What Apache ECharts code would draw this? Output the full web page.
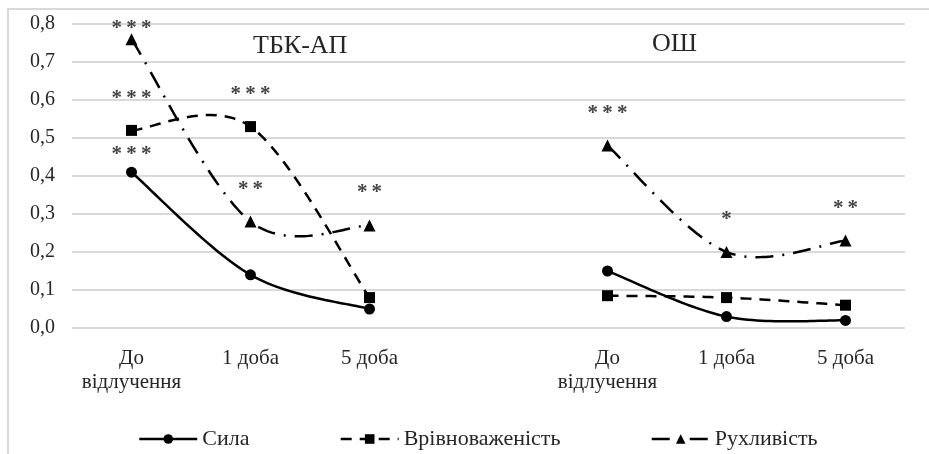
<!DOCTYPE html>
<html>
<head>
<meta charset="utf-8">
<script src="https://cdn.jsdelivr.net/npm/echarts@6/dist/echarts.min.js"></script>
<style>
  html, body { margin: 0; padding: 0; background: #fff; }
  #chart { width: 929px; height: 454px; }
</style>
</head>
<body>
<div id="chart"></div>
<script>
// Categories: two groups of three time points, with an empty slot between them
const categories = ['До\nвідлучення', '1 доба', '5 доба', '', 'До\nвідлучення', '1 доба', '5 доба'];
const groupTitles = ['ТБК-АП', 'ОШ'];
const yTicks = [0, 0.1, 0.2, 0.3, 0.4, 0.5, 0.6, 0.7, 0.8];

const seriesNames = ['Сила', 'Врівноваженість', 'Рухливість'];
const sila = [0.41, 0.14, 0.05, null, 0.15, 0.03, 0.02];
const rivnovazhenist = [0.52, 0.53, 0.08, null, 0.085, 0.08, 0.06];
const rukhlyvist = [0.76, 0.28, 0.27, null, 0.48, 0.20, 0.23];

// Significance marks shown above the points
const silaStars = ['***', '', '', '', '', '', ''];
const rivnovazhenistStars = ['***', '***', '', '', '', '', ''];
const rukhlyvistStars = ['***', '**', '**', '', '***', '*', '**'];

const serif = '"Liberation Serif", "DejaVu Serif", serif';
const textColor = '#262626';

// distance of the star label above its point (closer where the label sits near the top)
function labelDistance(seriesIdx, i) {
  if (seriesIdx === 0) return 2;
  if (seriesIdx === 2 && i === 0) return -6;
  return 16;
}

// stars are drawn slightly spaced apart
function spaced(txt) {
  return txt ? txt.split('').join('\u2009') : '';
}

function buildData(values, stars, seriesIdx) {
  return values.map((v, i) => ({
    value: v,
    label: {
      show: !!stars[i],
      formatter: spaced(stars[i]),
      distance: labelDistance(seriesIdx, i)
    }
  }));
}

const lineStyles = [
  { type: 'solid' },
  { type: [11, 8] },
  { type: [18, 9, 2, 9] }
];
const symbols = ['circle', 'rect', 'triangle'];
const symbolSizes = [11, 11, 12];
const allValues = [sila, rivnovazhenist, rukhlyvist];
const allStars = [silaStars, rivnovazhenistStars, rukhlyvistStars];

// Smooth curve through a run of points (Catmull-Rom, drawn as a sampled polyline
// so that the dash pattern stays continuous along the whole run)
function smoothRun(pts) {
  const out = [];
  const n = pts.length;
  const steps = 30;
  for (let i = 0; i < n - 1; i++) {
    const p0 = pts[Math.max(i - 1, 0)];
    const p1 = pts[i];
    const p2 = pts[i + 1];
    const p3 = pts[Math.min(i + 2, n - 1)];
    const c1 = [p1[0] + (p2[0] - p0[0]) / 6, p1[1] + (p2[1] - p0[1]) / 6];
    const c2 = [p2[0] - (p3[0] - p1[0]) / 6, p2[1] - (p3[1] - p1[1]) / 6];
    for (let s = (i === 0 ? 0 : 1); s <= steps; s++) {
      const t = s / steps, u = 1 - t;
      const a = u * u * u, b = 3 * u * u * t, c = 3 * u * t * t, d = t * t * t;
      out.push([
        a * p1[0] + b * c1[0] + c * c2[0] + d * p2[0],
        a * p1[1] + b * c1[1] + c * c2[1] + d * p2[1]
      ]);
    }
  }
  return out;
}

function curveSeries(k) {
  const values = allValues[k];
  return {
    type: 'custom',
    name: seriesNames[k] + ' ',
    coordinateSystem: 'cartesian2d',
    silent: true,
    z: 2,
    data: values.map((v, i) => [i, v == null ? 0 : v]),
    renderItem: function (params, api) {
      const i = params.dataIndex;
      if (values[i] == null || (i > 0 && values[i - 1] != null)) return null;
      const pts = [];
      for (let j = i; j < values.length && values[j] != null; j++) {
        pts.push(api.coord([j, values[j]]));
      }
      return {
        type: 'polyline',
        shape: { points: smoothRun(pts) },
        style: {
          fill: null,
          stroke: '#000',
          lineWidth: 2.5,
          lineDash: lineStyles[k].type === 'solid' ? null : lineStyles[k].type
        }
      };
    }
  };
}

const chart = echarts.init(document.getElementById('chart'));

const pointSeries = seriesNames.map((name, k) => ({
  name: name,
  type: 'line',
  symbol: symbols[k],
  symbolSize: symbolSizes[k],
  connectNulls: false,
  itemStyle: { color: '#000' },
  lineStyle: Object.assign({ color: '#000', width: 2.5, opacity: 0 }, lineStyles[k]),
  label: {
    position: 'top',
    color: '#444',
    fontFamily: serif,
    fontWeight: 'bold',
    fontSize: 21
  },
  z: 5 + k,
  data: buildData(allValues[k], allStars[k], k)
}));

chart.setOption({
  animation: false,
  backgroundColor: '#fff',
  grid: { left: 72, right: 24, top: 24, bottom: 126, containLabel: false },
  xAxis: {
    type: 'category',
    data: categories,
    boundaryGap: true,
    axisLine: { show: false },
    axisTick: { show: false },
    axisLabel: {
      margin: 18,
      color: textColor,
      fontFamily: serif,
      fontSize: 21,
      lineHeight: 24,
      interval: 0
    }
  },
  yAxis: {
    type: 'value',
    min: yTicks[0],
    max: yTicks[yTicks.length - 1],
    interval: 0.1,
    axisLine: { show: false },
    axisTick: { show: false },
    splitLine: { lineStyle: { color: '#d9d9d9', width: 2 } },
    axisLabel: {
      margin: 17,
      color: textColor,
      fontFamily: serif,
      fontSize: 20,
      formatter: v => v.toFixed(1).replace('.', ',')
    }
  },
  legend: {
    top: 423,
    left: 133,
    itemWidth: 58,
    itemHeight: 12,
    itemGap: 90,
    textStyle: { color: textColor, fontFamily: serif, fontSize: 22 },
    data: seriesNames.map((name, k) => ({
      name: name,
      lineStyle: Object.assign({ color: '#000', width: 2.5, opacity: 1 }, lineStyles[k])
    }))
  },
  graphic: [
    {
      type: 'rect',
      shape: { x: 8, y: 9, width: 940, height: 470 },
      style: { fill: 'none', stroke: '#d9d9d9', lineWidth: 2 },
      silent: true, z: 0
    },
    {
      type: 'text', left: 253, top: 33,
      style: { text: groupTitles[0], fontFamily: serif, fontSize: 26, fill: textColor }
    },
    {
      type: 'text', left: 652, top: 31,
      style: { text: groupTitles[1], fontFamily: serif, fontSize: 26, fill: textColor }
    }
  ],
  series: [0, 1, 2].map(curveSeries).concat(pointSeries)
});
</script>
</body>
</html>
